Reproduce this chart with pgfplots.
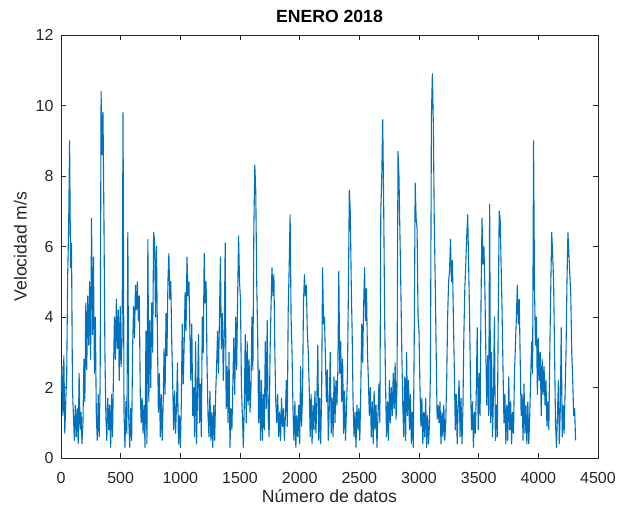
\documentclass[border=0pt]{standalone}
\usepackage{fontspec}
\setmainfont{Liberation Sans}
\usepackage{pgfplots}
\pgfplotsset{compat=1.18}
\definecolor{mblue}{RGB}{0,114,189}
\definecolor{axgray}{RGB}{38,38,38}
\begin{document}
\begin{tikzpicture}[x=1pt,y=1pt]
\useasboundingbox (-61,-50) rectangle (557,458);
\begin{axis}[
  at={(0,0)}, anchor=south west,
  scale only axis, width=537pt, height=423pt,
  xmin=0, xmax=4500, ymin=0, ymax=12,
  xtick={0,500,...,4500}, ytick={0,2,...,12},
  axis line style={axgray, line width=0.6pt},
  tick style={axgray, line width=0.6pt},
  major tick length=5pt,
  tick align=inside, xtick pos=both, ytick pos=both,
  /pgf/number format/assume math mode=true,
  /pgf/number format/1000 sep={},
  tick label style={font=\fontsize{16}{19}\selectfont, text=axgray},
  xticklabel style={yshift=-11pt},
  yticklabel style={xshift=-4pt},
  xlabel={Número de datos}, ylabel={Velocidad m/s},
  label style={font=\fontsize{17.6}{21}\selectfont, text=axgray},
  xlabel style={yshift=1pt},
  ylabel style={yshift=2pt},
  title={\textbf{ENERO 2018}},
  title style={font=\fontsize{17.6}{21}\selectfont, yshift=3pt},
]
\addplot[mblue, line width=1.1pt, line join=round] coordinates {
(0,1.9) (8,2.6) (16,1.2) (24,2.9) (32,0.7) (40,1.6) (48,2.4) (56,5.2) (64,6.5) (72,9.0)
(80,5.4) (88,6.1) (96,2.0) (104,1.2) (112,0.5) (120,1.5) (128,0.6) (136,1.4) (144,0.4) (152,2.4)
(160,0.8) (168,1.3) (176,0.4) (184,1.0) (192,2.8) (200,1.6) (208,4.4) (216,2.5) (224,4.6) (232,3.2)
(240,5.0) (248,2.8) (256,6.8) (264,3.5) (272,5.7) (280,2.4) (288,4.0) (296,1.2) (304,0.5) (312,1.8)
(320,0.6) (328,2.1) (336,10.4) (344,8.6) (352,9.8) (360,6.7) (368,3.0) (376,1.2) (384,0.5) (392,1.7)
(400,0.8) (408,1.5) (416,0.3) (424,1.8) (432,0.6) (440,2.5) (448,4.0) (456,2.8) (464,4.5) (472,3.1)
(480,4.2) (488,2.2) (496,4.3) (504,2.6) (512,3.4) (520,9.8) (528,1.3) (536,0.3) (544,1.6) (552,0.7)
(560,6.4) (568,1.1) (576,0.3) (584,1.4) (592,0.5) (600,3.1) (608,4.3) (616,3.4) (624,4.9) (632,4.2)
(640,5.0) (648,3.9) (656,4.6) (664,1.9) (672,1.0) (680,1.7) (688,0.7) (696,1.5) (704,0.3) (712,3.6)
(720,0.4) (728,6.2) (736,1.6) (744,3.9) (752,2.0) (760,4.4) (768,3.0) (776,6.4) (784,6.2) (792,4.0)
(800,6.0) (808,3.5) (816,1.3) (824,2.4) (832,0.6) (840,1.8) (848,0.5) (856,1.5) (864,3.1) (872,1.8)
(880,4.1) (888,2.9) (896,5.0) (904,5.8) (912,4.5) (920,5.0) (928,3.3) (936,2.1) (944,0.8) (952,1.9)
(960,0.7) (968,1.5) (976,2.7) (984,0.4) (992,1.2) (1000,0.3) (1008,1.5) (1016,3.8) (1024,2.1) (1032,3.2)
(1040,4.7) (1048,3.6) (1056,5.7) (1064,4.6) (1072,5.0) (1080,3.6) (1088,2.2) (1096,3.8) (1104,1.2) (1112,2.0)
(1120,0.6) (1128,3.3) (1136,0.4) (1144,1.8) (1152,3.5) (1160,1.0) (1168,2.1) (1176,0.6) (1184,4.0) (1192,3.0)
(1200,5.8) (1208,4.4) (1216,5.0) (1224,2.6) (1232,1.2) (1240,0.6) (1248,1.9) (1256,0.5) (1264,1.3) (1272,0.3)
(1280,1.5) (1288,0.5) (1296,1.8) (1304,2.6) (1312,3.6) (1320,2.4) (1328,4.0) (1336,5.7) (1344,3.1) (1352,4.1)
(1360,2.2) (1368,3.5) (1376,6.1) (1384,1.4) (1392,2.6) (1400,1.0) (1408,3.0) (1416,0.3) (1424,1.4) (1432,0.8)
(1440,2.1) (1448,3.4) (1456,1.8) (1464,4.0) (1472,2.5) (1480,4.5) (1488,6.3) (1496,5.0) (1504,4.5) (1512,2.0)
(1520,1.2) (1528,0.3) (1536,1.5) (1544,3.5) (1552,1.0) (1560,3.3) (1568,1.5) (1576,2.8) (1584,1.3) (1592,2.0)
(1600,4.0) (1608,2.5) (1616,6.5) (1624,8.3) (1632,7.6) (1640,5.0) (1648,3.5) (1656,1.0) (1664,2.5) (1672,0.5)
(1680,2.2) (1688,0.5) (1696,1.8) (1704,0.8) (1712,3.3) (1720,1.4) (1728,3.9) (1736,1.2) (1744,0.6) (1752,3.0)
(1760,4.3) (1768,5.4) (1776,4.6) (1784,5.2) (1792,3.0) (1800,1.6) (1808,1.0) (1816,1.8) (1824,0.6) (1832,1.3)
(1840,0.5) (1848,1.7) (1856,0.9) (1864,1.4) (1872,0.5) (1880,1.2) (1888,2.2) (1896,0.9) (1904,4.2) (1912,5.4)
(1920,6.9) (1928,4.0) (1936,3.0) (1944,1.4) (1952,0.5) (1960,1.6) (1968,0.3) (1976,1.2) (1984,0.6) (1992,1.5)
(2000,0.4) (2008,2.6) (2016,0.9) (2024,1.8) (2032,4.4) (2040,5.2) (2048,4.6) (2056,4.9) (2064,3.6) (2072,3.0)
(2080,2.0) (2088,0.6) (2096,1.8) (2104,0.4) (2112,1.5) (2120,0.8) (2128,1.9) (2136,0.7) (2144,1.6) (2152,3.2)
(2160,0.5) (2168,1.7) (2176,0.4) (2184,1.8) (2192,5.4) (2200,3.8) (2208,4.0) (2216,2.8) (2224,1.6) (2232,2.5)
(2240,0.5) (2248,1.4) (2256,3.0) (2264,0.7) (2272,1.7) (2280,0.6) (2288,2.3) (2296,1.0) (2304,2.2) (2312,1.5)
(2320,2.5) (2328,5.3) (2336,2.4) (2344,3.3) (2352,1.6) (2360,2.8) (2368,0.7) (2376,1.9) (2384,0.5) (2392,1.4)
(2400,2.3) (2408,4.6) (2416,7.6) (2424,7.0) (2432,5.0) (2440,3.5) (2448,1.5) (2456,0.6) (2464,1.3) (2472,0.3)
(2480,1.5) (2488,0.8) (2496,1.4) (2504,0.5) (2512,1.9) (2520,3.8) (2528,2.7) (2536,4.3) (2544,5.4) (2552,3.9)
(2560,4.8) (2568,3.0) (2576,2.2) (2584,1.2) (2592,2.0) (2600,0.6) (2608,1.6) (2616,0.4) (2624,1.9) (2632,0.8)
(2640,1.5) (2648,0.3) (2656,1.2) (2664,2.1) (2672,1.0) (2680,7.0) (2688,8.0) (2696,9.6) (2704,7.2) (2712,4.0)
(2720,2.0) (2728,0.6) (2736,1.6) (2744,0.5) (2752,2.2) (2760,1.0) (2768,2.0) (2776,1.2) (2784,2.4) (2792,1.4)
(2800,2.7) (2808,1.1) (2816,2.1) (2824,8.7) (2832,8.0) (2840,6.4) (2848,4.8) (2856,3.0) (2864,1.5) (2872,0.6)
(2880,2.3) (2888,0.5) (2896,3.0) (2904,1.2) (2912,2.2) (2920,0.8) (2928,1.8) (2936,0.4) (2944,1.3) (2952,0.3)
(2960,3.3) (2968,7.8) (2976,6.8) (2984,6.5) (2992,4.0) (3000,3.6) (3008,2.0) (3016,0.9) (3024,1.7) (3032,0.4)
(3040,1.3) (3048,0.6) (3056,1.7) (3064,0.3) (3072,1.2) (3080,0.4) (3088,1.0) (3096,2.5) (3104,9.7) (3112,10.9)
(3120,9.5) (3128,6.7) (3136,5.0) (3144,3.0) (3152,1.1) (3160,1.5) (3168,1.0) (3176,1.6) (3184,0.4) (3192,1.3)
(3200,0.6) (3208,1.5) (3216,0.5) (3224,1.0) (3232,2.2) (3240,4.0) (3248,5.0) (3256,5.3) (3264,6.2) (3272,5.0)
(3280,5.6) (3288,4.0) (3296,2.5) (3304,0.8) (3312,1.8) (3320,0.4) (3328,1.5) (3336,2.2) (3344,0.6) (3352,1.7)
(3360,0.4) (3368,1.4) (3376,3.5) (3384,4.8) (3392,5.5) (3400,6.3) (3408,6.9) (3416,5.5) (3424,4.0) (3432,2.0)
(3440,0.8) (3448,1.6) (3456,0.3) (3464,1.3) (3472,0.7) (3480,1.9) (3488,3.7) (3496,0.8) (3504,2.4) (3512,1.2)
(3520,4.5) (3528,6.8) (3536,5.5) (3544,6.0) (3552,4.8) (3560,3.0) (3568,1.5) (3576,2.9) (3584,1.2) (3592,7.2)
(3600,1.0) (3608,3.0) (3616,0.6) (3624,1.8) (3632,4.0) (3640,0.5) (3648,1.5) (3656,0.6) (3664,4.0) (3672,7.0)
(3680,6.8) (3688,5.5) (3696,4.2) (3704,2.5) (3712,1.0) (3720,1.8) (3728,0.4) (3736,1.5) (3744,0.5) (3752,2.3)
(3760,0.8) (3768,1.6) (3776,0.4) (3784,1.3) (3792,0.7) (3800,2.4) (3808,3.2) (3816,4.0) (3824,4.9) (3832,3.8)
(3840,4.5) (3848,2.8) (3856,1.2) (3864,1.8) (3872,0.5) (3880,2.1) (3888,0.7) (3896,1.5) (3904,0.4) (3912,1.6)
(3920,0.4) (3928,1.2) (3936,2.3) (3944,3.3) (3952,2.4) (3960,9.0) (3968,4.8) (3976,3.2) (3984,4.0) (3992,1.8)
(4000,3.4) (4008,2.2) (4016,3.0) (4024,1.2) (4032,2.8) (4040,1.8) (4048,2.6) (4056,1.5) (4064,2.2) (4072,0.9)
(4080,1.6) (4088,0.8) (4096,3.0) (4104,4.8) (4112,6.4) (4120,5.8) (4128,5.0) (4136,3.0) (4144,1.0) (4152,0.3)
(4160,1.2) (4168,2.2) (4176,0.4) (4184,1.4) (4192,3.7) (4200,0.6) (4208,1.5) (4216,0.7) (4224,1.8) (4232,3.0)
(4240,5.0) (4248,6.4) (4256,5.8) (4264,5.2) (4272,4.6) (4280,3.0) (4288,2.2) (4296,1.2) (4304,1.4) (4312,0.5)
};
\end{axis}
\end{tikzpicture}
\end{document}
